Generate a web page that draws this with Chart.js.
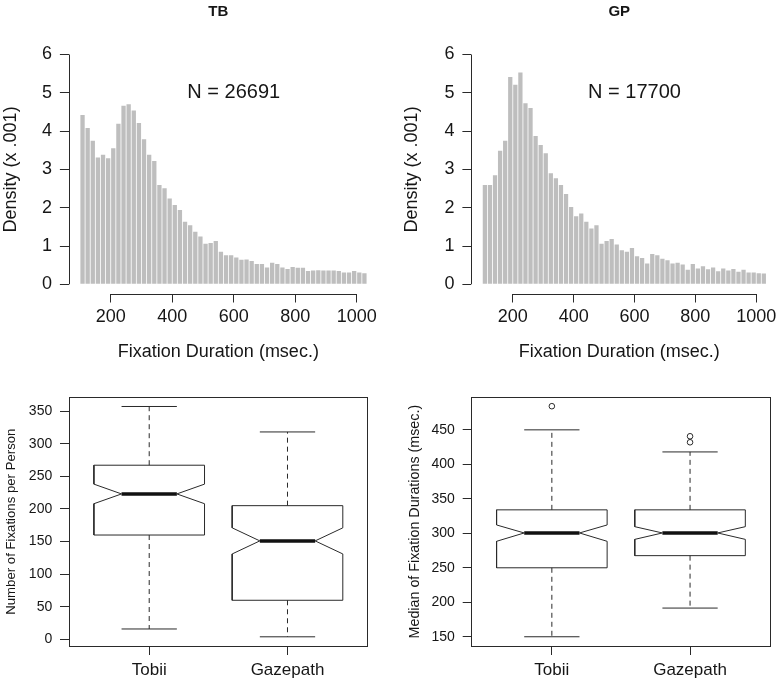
<!DOCTYPE html>
<html>
<head>
<meta charset="utf-8">
<script src="https://cdn.jsdelivr.net/npm/chart.js@4.4.1/dist/chart.umd.min.js"></script>
<style>
html,body{margin:0;padding:0;background:#fff;overflow:hidden;}
#wrap{position:relative;width:780px;height:680px;background:#fff;}
canvas{position:absolute;display:block;}
</style>
</head>
<body>
<div id="wrap">
  <canvas id="histTB" width="390" height="380" style="left:0;top:0"></canvas>
  <canvas id="histGP" width="390" height="380" style="left:390px;top:0"></canvas>
  <canvas id="boxCount" width="390" height="300" style="left:0;top:380px"></canvas>
  <canvas id="boxMedian" width="390" height="300" style="left:390px;top:380px"></canvas>
</div>
<script>
// ---------------- DATA ----------------
// histogram bins: width of one screen refresh (1000/60 ms), starting at 100 ms
const binStart = 100;
const binWidth = 1000 / 60;
// density (x .001) per bin
const densityTB = [4.42, 4.08, 3.75, 3.31, 3.38, 3.29, 3.55, 4.19, 4.66, 4.70,
                   4.54, 4.21, 3.79, 3.38, 3.22, 2.59, 2.51, 2.24, 2.07, 1.94,
                   1.63, 1.54, 1.37, 1.25, 1.06, 1.08, 1.13, 0.85, 0.76, 0.76,
                   0.70, 0.64, 0.65, 0.61, 0.53, 0.53, 0.44, 0.56, 0.53, 0.44,
                   0.40, 0.45, 0.43, 0.43, 0.35, 0.36, 0.37, 0.36, 0.36, 0.36,
                   0.35, 0.31, 0.31, 0.35, 0.31, 0.29];
const densityGP = [2.59, 2.59, 2.85, 3.49, 3.75, 5.41, 5.21, 5.53, 4.73, 4.60,
                   3.87, 3.64, 3.42, 2.90, 2.77, 2.59, 2.36, 2.02, 1.78, 1.85,
                   1.63, 1.46, 1.54, 1.06, 1.13, 1.18, 1.04, 0.89, 0.85, 0.95,
                   0.73, 0.69, 0.54, 0.79, 0.76, 0.67, 0.63, 0.54, 0.56, 0.52,
                   0.38, 0.53, 0.41, 0.47, 0.39, 0.44, 0.34, 0.41, 0.36, 0.40,
                   0.33, 0.38, 0.31, 0.31, 0.29, 0.28];
const histTitles = ['TB', 'GP'];
const histCounts = [26691, 17700];
const histXTicks = [200, 400, 600, 800, 1000];
const histYTicks = [0, 1, 2, 3, 4, 5, 6];

const boxCategories = ['Tobii', 'Gazepath'];
// Number of fixations per person
const countLowerWhisker = [16, 4];
const countQ1 = [160, 60];
const countNotchLow = [208, 131];
const countMedian = [223, 151];
const countNotchHigh = [238, 171];
const countQ3 = [267, 205];
const countUpperWhisker = [357, 318];
const countOutliers = [[], []];
const countYTicks = [0, 50, 100, 150, 200, 250, 300, 350];
// Median of fixation durations (msec.)
const medLowerWhisker = [150, 191.6];
const medQ1 = [250, 267.6];
const medNotchLow = [288.4, 291.2];
const medMedian = [300.5, 300.5];
const medNotchHigh = [312.1, 309.6];
const medQ3 = [334, 334];
const medUpperWhisker = [450, 418];
const medOutliers = [[484.3], [432, 440.7]];
const medYTicks = [150, 200, 250, 300, 350, 400, 450];

// ---------------- STYLE ----------------
const FONT = "'Liberation Sans', Arial, Helvetica, sans-serif";
const TEXT = '#161616';
const AXIS = '#2a2a2a';
const BAR = '#bebebe';
Chart.defaults.font.family = FONT;
Chart.defaults.color = TEXT;
Chart.defaults.animation = false;

function tickList(arr) { return s => { s.ticks = arr.map(v => ({ value: v })); }; }

// axis lines drawn only over the tick range (R style) + panel title + N annotation
const histDecor = {
  id: 'histDecor',
  afterDraw(chart, args, o) {
    const { ctx, chartArea, scales: { x, y } } = chart;
    ctx.save();
    ctx.strokeStyle = AXIS;
    ctx.lineWidth = 1;
    const ax = Math.round(chartArea.left) + 0.5;
    const ay = Math.round(chartArea.bottom) + 0.5;
    ctx.beginPath();
    ctx.moveTo(ax, y.getPixelForValue(histYTicks[0]));
    ctx.lineTo(ax, y.getPixelForValue(histYTicks[histYTicks.length - 1]));
    ctx.moveTo(x.getPixelForValue(histXTicks[0]), ay);
    ctx.lineTo(x.getPixelForValue(histXTicks[histXTicks.length - 1]), ay);
    ctx.stroke();
    ctx.fillStyle = TEXT;
    ctx.textAlign = 'center';
    ctx.textBaseline = 'middle';
    ctx.font = 'bold 15px ' + FONT;
    ctx.fillText(o.title, (chartArea.left + chartArea.right) / 2, 12);
    ctx.font = '20px ' + FONT;
    ctx.fillText('N = ' + o.count, x.getPixelForValue(600), y.getPixelForValue(5));
    ctx.restore();
  }
};

function makeHist(id, values, title, count, g) {
  new Chart(document.getElementById(id), {
    type: 'bar',
    data: {
      datasets: [{
        data: values.map((v, i) => ({ x: binStart + (i + 0.5) * binWidth, y: v })),
        backgroundColor: BAR,
        borderWidth: 0,
        barPercentage: 0.84,
        categoryPercentage: 1
      }]
    },
    options: {
      responsive: false,
      animation: false,
      layout: { padding: { top: 45.3, right: g.padRight, bottom: 0, left: 0 } },
      plugins: { legend: { display: false }, tooltip: { enabled: false }, histDecor: { title, count } },
      scales: {
        x: {
          type: 'linear', min: 64, max: 1036, offset: false,
          afterBuildTicks: tickList(histXTicks),
          afterFit: s => { s.height = 86.5; },
          grid: { offset: false, drawOnChartArea: false, drawTicks: true, tickLength: 9, color: AXIS, lineWidth: 1 },
          border: { display: false },
          ticks: { autoSkip: false, maxRotation: 0, padding: 3.4, font: { size: 18 }, color: TEXT, callback: v => String(v) },
          title: { display: true, text: 'Fixation Duration (msec.)', font: { size: 18 }, color: TEXT, padding: { top: 0, bottom: 17.5 } }
        },
        y: {
          type: 'linear', min: -0.24, max: 6.24,
          afterBuildTicks: tickList(histYTicks),
          afterFit: s => { s.width = g.yWidth; },
          grid: { drawOnChartArea: false, drawTicks: true, tickLength: 9, color: AXIS, lineWidth: 1 },
          border: { display: false },
          ticks: { padding: 7.8, font: { size: 18 }, color: TEXT, callback: v => String(v) },
          title: { display: true, text: 'Density (x .001)', font: { size: 18 }, color: TEXT, padding: { top: g.yTitlePad, bottom: 0 } }
        }
      }
    },
    plugins: [histDecor]
  });
}

makeHist('histTB', densityTB, histTitles[0], histCounts[0], { yWidth: 68.9, padRight: 22.2, yTitlePad: 0 });
makeHist('histGP', densityGP, histTitles[1], histCounts[1], { yWidth: 81.4, padRight: 9.7, yTitlePad: 11.7 });

// ---------------- BOXPLOTS ----------------
const BOX_HALF = 0.4, NOTCH_HALF = 0.2;
function boxDatasets(s) {
  const sets = [];
  const line = (pts, extra) => Object.assign({
    data: pts, showLine: true, pointRadius: 0, borderColor: AXIS, borderWidth: 1, fill: false, tension: 0
  }, extra || {});
  boxCategories.forEach((c, i) => {
    const cx = i + 1;
    // whiskers (dashed)
    sets.push(line([{ x: cx, y: s.q3[i] }, { x: cx, y: s.hi[i] }], { borderDash: [5, 4] }));
    sets.push(line([{ x: cx, y: s.q1[i] }, { x: cx, y: s.lo[i] }], { borderDash: [5, 4] }));
    // staples
    sets.push(line([{ x: cx - NOTCH_HALF, y: s.hi[i] }, { x: cx + NOTCH_HALF, y: s.hi[i] }]));
    sets.push(line([{ x: cx - NOTCH_HALF, y: s.lo[i] }, { x: cx + NOTCH_HALF, y: s.lo[i] }]));
    // notched box outline
    sets.push(line([
      { x: cx - BOX_HALF, y: s.q1[i] }, { x: cx + BOX_HALF, y: s.q1[i] },
      { x: cx + BOX_HALF, y: s.nlo[i] }, { x: cx + NOTCH_HALF, y: s.med[i] },
      { x: cx + BOX_HALF, y: s.nhi[i] }, { x: cx + BOX_HALF, y: s.q3[i] },
      { x: cx - BOX_HALF, y: s.q3[i] }, { x: cx - BOX_HALF, y: s.nhi[i] },
      { x: cx - NOTCH_HALF, y: s.med[i] }, { x: cx - BOX_HALF, y: s.nlo[i] },
      { x: cx - BOX_HALF, y: s.q1[i] }
    ], { backgroundColor: '#fff' }));
    // median
    sets.push(line([{ x: cx - NOTCH_HALF, y: s.med[i] }, { x: cx + NOTCH_HALF, y: s.med[i] }], { borderWidth: 3.5, borderColor: '#111', borderCapStyle: 'butt' }));
    // outliers
    if (s.out[i].length) {
      sets.push({
        data: s.out[i].map(v => ({ x: cx, y: v })), showLine: false, pointStyle: 'circle',
        pointRadius: 2.8, pointBorderWidth: 1, pointBorderColor: AXIS, pointBackgroundColor: 'rgba(0,0,0,0)'
      });
    }
  });
  return sets;
}

function makeBox(id, stats, yMin, yMax, yTicks, yTitle, g) {
  new Chart(document.getElementById(id), {
    type: 'scatter',
    data: { datasets: boxDatasets(stats) },
    options: {
      responsive: false,
      animation: false,
      layout: { padding: { top: 17.3, right: g.padRight, bottom: 0, left: 0 } },
      plugins: { legend: { display: false }, tooltip: { enabled: false } },
      scales: {
        x: {
          type: 'linear', position: 'bottom', min: 0.42, max: 2.58,
          afterBuildTicks: tickList([1, 2]),
          afterFit: s => { s.height = 34; },
          grid: { drawOnChartArea: false, drawTicks: true, tickLength: 9, color: AXIS, lineWidth: 1 },
          border: { display: true, color: AXIS, width: 1 },
          ticks: { autoSkip: false, maxRotation: 0, padding: 4.8, font: { size: 17 }, color: TEXT, callback: v => boxCategories[v - 1] }
        },
        y: {
          type: 'linear', position: 'left', min: yMin, max: yMax,
          afterBuildTicks: tickList(yTicks),
          afterFit: s => { s.width = g.yWidth; },
          grid: { drawOnChartArea: false, drawTicks: true, tickLength: 9, color: AXIS, lineWidth: 1 },
          border: { display: true, color: AXIS, width: 1 },
          ticks: { padding: 7.8, font: { size: 14 }, color: TEXT, callback: v => String(v) },
          title: { display: true, text: yTitle, font: { size: g.titleSize }, color: TEXT, padding: { top: g.yTitlePad, bottom: 0 } }
        },
        xTop: {
          type: 'linear', position: 'top', min: 0.42, max: 2.58,
          afterFit: s => { s.height = 0; },
          grid: { display: false, drawTicks: false },
          ticks: { display: false },
          border: { display: true, color: AXIS, width: 1 }
        },
        yRight: {
          type: 'linear', position: 'right', min: yMin, max: yMax,
          afterFit: s => { s.width = 0; },
          grid: { display: false, drawTicks: false },
          ticks: { display: false },
          border: { display: true, color: AXIS, width: 1 }
        }
      }
    }
  });
}

makeBox('boxCount', {
  lo: countLowerWhisker, q1: countQ1, nlo: countNotchLow, med: countMedian,
  nhi: countNotchHigh, q3: countQ3, hi: countUpperWhisker, out: countOutliers
}, -10.1, 371.1, countYTicks, 'Number of Fixations per Person',
  { yWidth: 69, padRight: 22.3, yTitlePad: 3.8, titleSize: 13.2 });

makeBox('boxMedian', {
  lo: medLowerWhisker, q1: medQ1, nlo: medNotchLow, med: medMedian,
  nhi: medNotchHigh, q3: medQ3, hi: medUpperWhisker, out: medOutliers
}, 136.6, 497.2, medYTicks, 'Median of Fixation Durations (msec.)',
  { yWidth: 81.7, padRight: 9.8, yTitlePad: 16.4, titleSize: 14.3 });
</script>
</body>
</html>
